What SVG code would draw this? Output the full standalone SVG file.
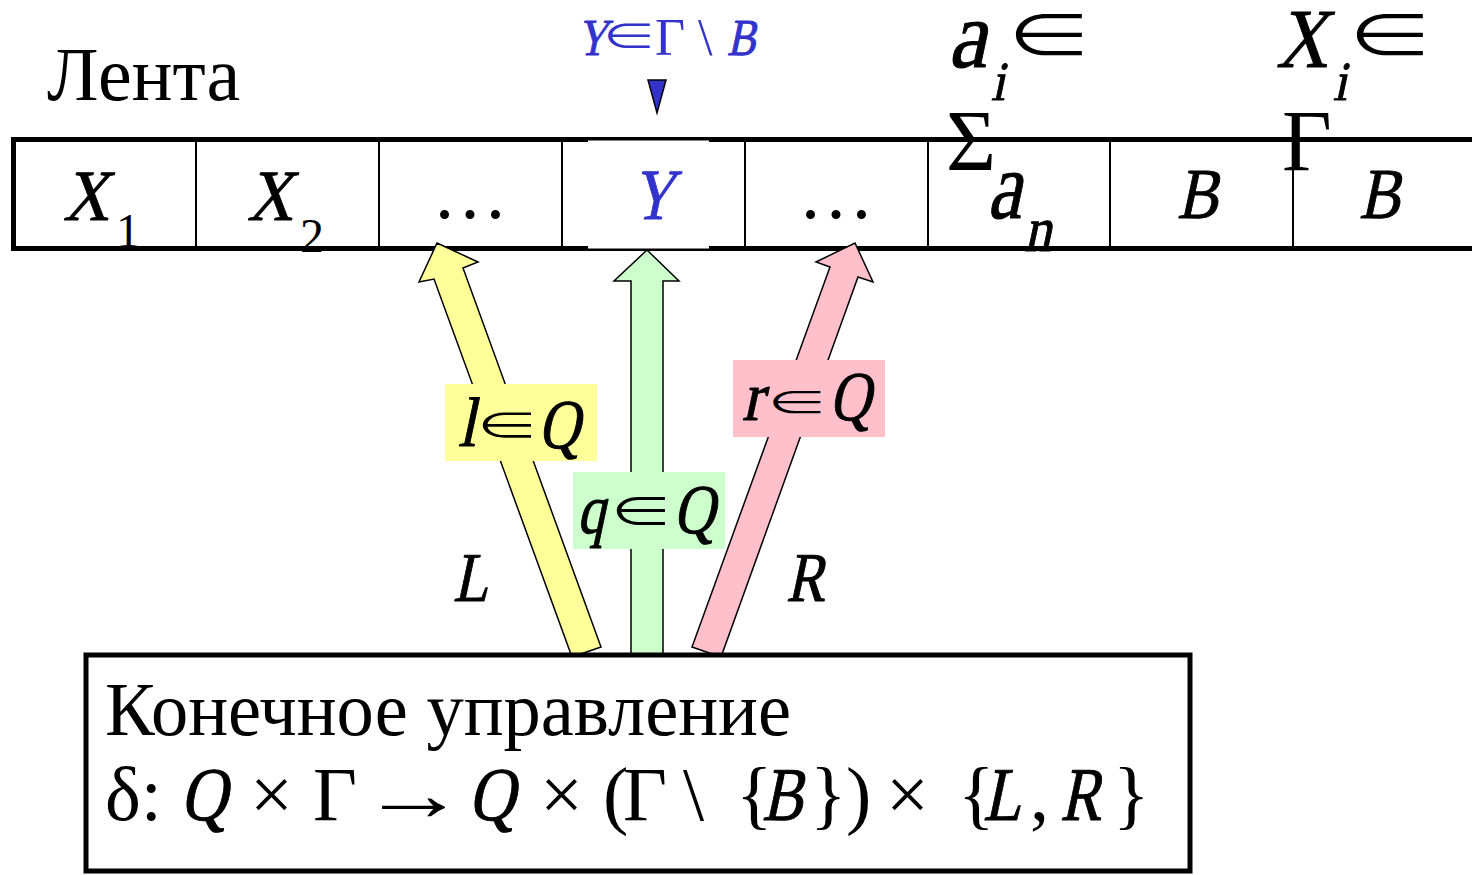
<svg xmlns="http://www.w3.org/2000/svg" width="1472" height="875" viewBox="0 0 1472 875">
<style>
text{font-family:"Liberation Serif","Times New Roman",serif;fill:#000}
.el{font-family:"Noto Sans CJK JP","DejaVu Sans",sans-serif;text-anchor:middle}
.sk{stroke:#000;stroke-width:1;stroke-linejoin:round}
.blue{fill:#3333cc}
.blue.sk{stroke:#3333cc}
.thick{stroke:#000;stroke-width:5;fill:none}
.thin{stroke:#000;stroke-width:2;fill:none}
.arrow{stroke:#000;stroke-width:1.5;stroke-linejoin:miter}
.f76{font-size:76px}
.f70{font-size:70px}
.f72{font-size:72px}
</style>
<rect width="1472" height="875" fill="#fff"/>

<g id="title">
<text x="47" y="100" font-size="76">Лента</text>
</g>

<g id="tape">
<g id="tape-texts">
<text class="f72 sk" transform="translate(63,220) skewX(-12) scale(0.88,1)">X</text>
<text x="116" y="247" font-size="48">1</text>
<text class="f72 sk" transform="translate(247,220) skewX(-12) scale(0.88,1)">X</text>
<text x="300" y="252" font-size="48">2</text>
<text x="470" y="218" font-size="76" text-anchor="middle">…</text>
<text x="836" y="218" font-size="76" text-anchor="middle">…</text>
<text class="sk" font-size="96" transform="translate(987,218) skewX(-12) scale(0.8,1)">a</text>
<text class="sk" font-size="64" transform="translate(1024,251) skewX(-12) scale(0.85,1)">n</text>
<text class="f72 sk" transform="translate(1177,218) skewX(-12) scale(0.85,1)">B</text>
<text class="f72 sk" transform="translate(1359,218) skewX(-12) scale(0.85,1)">B</text>
</g>
<line class="thick" x1="11" y1="139.5" x2="1472" y2="139.5"/>
<line class="thick" x1="11" y1="248.5" x2="1472" y2="248.5"/>
<line class="thick" x1="13.5" y1="137" x2="13.5" y2="251"/>
<line class="thin" x1="196" y1="140" x2="196" y2="248"/>
<line class="thin" x1="379" y1="140" x2="379" y2="248"/>
<line class="thin" x1="562" y1="140" x2="562" y2="248"/>
<line class="thin" x1="745" y1="140" x2="745" y2="248"/>
<line class="thin" x1="928" y1="140" x2="928" y2="248"/>
<line class="thin" x1="1110" y1="140" x2="1110" y2="248"/>
<line class="thin" x1="1293" y1="140" x2="1293" y2="248"/>
</g>

<g id="head-cell">
<rect x="588" y="140.5" width="121" height="108" fill="#fff"/>
<text class="f72 blue sk" transform="translate(632,219) skewX(-12) scale(0.8,1)">Y</text>
</g>

<g id="head">
<text class="blue sk" font-size="52" transform="translate(577,55) skewX(-12) scale(0.8,1)">Y</text>
<text class="el blue" font-size="37" transform="translate(629,50) scale(1.5,1)">∈</text>
<text class="blue" x="655" y="55" font-size="52">Γ</text>
<text class="blue" x="698" y="55" font-size="52">\</text>
<text class="blue sk" font-size="52" transform="translate(727,55) skewX(-12) scale(0.82,1)">B</text>
<polygon points="648,80 666,80 657,113" fill="#3333cc" stroke="#000" stroke-width="1.5"/>
</g>

<g id="alphabet-labels">
<text class="sk" font-size="96" transform="translate(948,67) skewX(-12) scale(0.9,1)">a</text>
<text class="sk" font-size="55" transform="translate(991,100) skewX(-12) scale(0.9,1)">i</text>
<text class="el" font-size="63" transform="translate(1049,58) scale(1.4,1)">∈</text>
<text x="946" y="170" font-size="86">Σ</text>
<text class="sk" font-size="84" transform="translate(1276,67) skewX(-12) scale(0.85,1)">X</text>
<text class="sk" font-size="55" transform="translate(1333,100) skewX(-12) scale(0.9,1)">i</text>
<text class="el" font-size="63" transform="translate(1390,58) scale(1.4,1)">∈</text>
<text x="1282" y="170" font-size="86">Γ</text>
</g>

<g id="connectors">
<polygon class="arrow" fill="#ffff99" points="437,243 478,262 463,268 601,647 572,657 434,279 419,282"/>
<polygon class="arrow" fill="#ccffcc" points="647,250 679,281 663,281 663,654 631,654 631,281 614,281"/>
<polygon class="arrow" fill="#ffc0cb" points="855,243 873,282 858,277 721,657 692,647 830,267 816,262"/>
</g>

<g id="connector-labels">
<rect x="445" y="384" width="152" height="77" fill="#ffff99"/>
<text class="f70 sk" transform="translate(458,446) skewX(-12) scale(0.9,1)">l</text>
<text class="el" font-size="38" transform="translate(507,439) scale(1.7,1)">∈</text>
<text class="f70 sk" transform="translate(538,448) skewX(-12) scale(0.82,1)">Q</text>

<rect x="573" y="472" width="152" height="77" fill="#ccffcc"/>
<text class="f70 sk" transform="translate(577,533) skewX(-12) scale(0.8,1)">q</text>
<text class="el" font-size="43" transform="translate(641,527) scale(1.5,1)">∈</text>
<text class="f70 sk" transform="translate(673,533) skewX(-12) scale(0.82,1)">Q</text>

<rect x="733" y="360" width="152" height="77" fill="#ffc0cb"/>
<text class="f70 sk" transform="translate(742,420) skewX(-12) scale(0.9,1)">r</text>
<text class="el" font-size="34" transform="translate(797,415) scale(1.85,1)">∈</text>
<text class="f70 sk" transform="translate(829,420) skewX(-12) scale(0.82,1)">Q</text>

<text class="f70 sk" transform="translate(453,601) skewX(-12) scale(0.82,1)">L</text>
<text class="f70 sk" transform="translate(786,601) skewX(-12) scale(0.82,1)">R</text>
</g>

<g id="control">
<rect x="86" y="655" width="1104" height="216" fill="#fff" stroke="#000" stroke-width="5"/>
<text x="105" y="735" font-size="76" textLength="686" lengthAdjust="spacingAndGlyphs">Конечное управление</text>
<g id="transition-function" class="f76">
<text x="105" y="820">δ:</text>
<text class="sk" transform="translate(180,820) skewX(-12) scale(0.85,1)">Q</text>
<text x="250" y="820">×</text>
<text x="313" y="820">Γ</text>
<text transform="translate(360,820) scale(1.4,1)">→</text>
<text class="sk" transform="translate(468,820) skewX(-12) scale(0.85,1)">Q</text>
<text x="540" y="820">×</text>
<text x="603" y="820">(</text>
<text x="623" y="820">Γ</text>
<text x="683" y="820">\</text>
<text x="736" y="820">{</text>
<text class="sk" transform="translate(762,820) skewX(-12) scale(0.8,1)">B</text>
<text x="810" y="820">}</text>
<text x="846" y="820">)</text>
<text x="886" y="820">×</text>
<text x="958" y="820">{</text>
<text class="sk" transform="translate(983,820) skewX(-12) scale(0.82,1)">L</text>
<text x="1030" y="820">,</text>
<text class="sk" transform="translate(1060,820) skewX(-12) scale(0.8,1)">R</text>
<text x="1113" y="820">}</text>
</g>
</g>
</svg>
